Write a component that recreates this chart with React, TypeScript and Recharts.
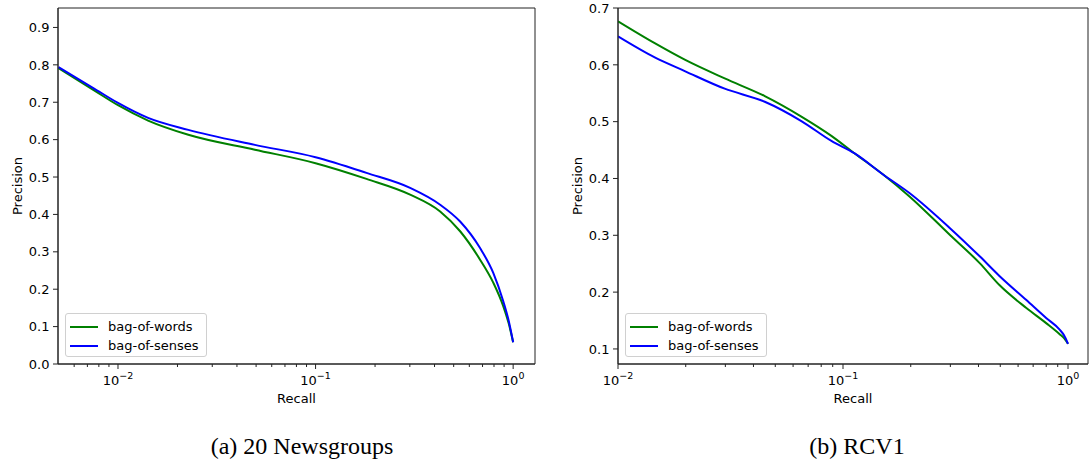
import React from 'react';
import { LineChart, Line, XAxis, YAxis, Legend, ReferenceArea } from 'recharts';

// (a) 20 Newsgroups
const newsRecall = [0.005, 0.0075, 0.01, 0.0142, 0.0227, 0.0493, 0.1, 0.181, 0.301, 0.427, 0.539, 0.68, 0.794, 0.892, 0.95, 1.0];
const newsWords = [0.791, 0.733, 0.692, 0.651, 0.613, 0.573, 0.537, 0.495, 0.453, 0.408, 0.355, 0.279, 0.217, 0.154, 0.108, 0.058];
const newsSenses = [0.794, 0.738, 0.698, 0.658, 0.626, 0.586, 0.553, 0.511, 0.471, 0.426, 0.381, 0.31, 0.243, 0.167, 0.115, 0.058];

// (b) RCV1
const rcvRecall = [0.01, 0.01456, 0.0198, 0.0298, 0.0449, 0.0653, 0.0888, 0.1127, 0.1507, 0.198, 0.298, 0.405, 0.497, 0.653, 0.802, 0.918, 0.96, 1.0];
const rcvWords = [0.6765, 0.638, 0.609, 0.576, 0.545, 0.509, 0.475, 0.444, 0.407, 0.368, 0.301, 0.251, 0.212, 0.172, 0.145, 0.126, 0.119, 0.109];
const rcvSenses = [0.65, 0.613, 0.589, 0.558, 0.535, 0.501, 0.466, 0.444, 0.407, 0.374, 0.313, 0.263, 0.228, 0.186, 0.154, 0.134, 0.124, 0.109];

const seriesNames = ['bag-of-words', 'bag-of-senses'];
const seriesColors = ['#008000', '#0000ff'];

const newsYTicks = [0, 0.1, 0.2, 0.3, 0.4, 0.5, 0.6, 0.7, 0.8, 0.9];
const rcvYTicks = [0.1, 0.2, 0.3, 0.4, 0.5, 0.6, 0.7];
const newsXTicks = [0.006, 0.007, 0.008, 0.009, 0.01, 0.02, 0.03, 0.04, 0.05, 0.06, 0.07, 0.08, 0.09, 0.1, 0.2, 0.3, 0.4, 0.5, 0.6, 0.7, 0.8, 0.9, 1];
const rcvXTicks = [0.01, 0.02, 0.03, 0.04, 0.05, 0.06, 0.07, 0.08, 0.09, 0.1, 0.2, 0.3, 0.4, 0.5, 0.6, 0.7, 0.8, 0.9, 1];
const majorTicks = [0.01, 0.1, 1];
const majorExponents = ['\u22122', '\u22121', '0'];

const FONT = 'DejaVu Sans';
const SPINE = '#222';

const toRows = (recall: number[], words: number[], senses: number[]) =>
  recall.map((r, i) => ({ recall: r, words: words[i], senses: senses[i] }));

const newsData = toRows(newsRecall, newsWords, newsSenses);
const rcvData = toRows(rcvRecall, rcvWords, rcvSenses);

function LogTick({ x, y, payload }: any) {
  const idx = majorTicks.findIndex((m) => Math.abs(m - payload.value) < 1e-9);
  const major = idx >= 0;
  return (
    <g>
      <line x1={x} x2={x} y1={y} y2={y + (major ? 5 : 3)} stroke={SPINE} strokeWidth={1} />
      {major && (
        <text x={x} y={y + 21} textAnchor="middle" fontSize={13} fill="#000" fontFamily={FONT}>
          10<tspan dy={-6} fontSize={9.5}>{majorExponents[idx]}</tspan>
        </text>
      )}
    </g>
  );
}

function YTick({ x, y, payload }: any) {
  return (
    <g>
      <line x1={x - 5} x2={x} y1={y} y2={y} stroke={SPINE} strokeWidth={1} />
      <text x={x - 8.5} y={y} dy="0.36em" textAnchor="end" fontSize={13} fill="#000" fontFamily={FONT}>
        {payload.value.toFixed(1)}
      </text>
    </g>
  );
}

const recallLabel = (props: any) => {
  const vb = props.viewBox;
  return (
    <text x={vb.x + vb.width / 2} y={vb.y + 39} textAnchor="middle" fontSize={13} fill="#000" fontFamily={FONT}>
      Recall
    </text>
  );
};

const precisionLabel = (props: any) => {
  const vb = props.viewBox;
  const cx = vb.x + 17;
  const cy = vb.y + vb.height / 2;
  return (
    <text x={cx} y={cy} dy="0.36em" transform={`rotate(-90 ${cx} ${cy})`} textAnchor="middle" fontSize={13} fill="#000" fontFamily={FONT}>
      Precision
    </text>
  );
};

function LegendBox() {
  return (
    <div
      style={{
        boxSizing: 'border-box',
        width: 142,
        height: 44,
        border: '1px solid #d0d0d0',
        borderRadius: 3,
        background: 'rgba(255,255,255,0.8)',
        paddingTop: 3,
        fontFamily: FONT,
        fontSize: 13,
        color: '#000',
      }}
    >
      {seriesNames.map((name, i) => (
        <div key={name} style={{ display: 'flex', alignItems: 'center', height: 19 }}>
          <span style={{ display: 'inline-block', width: 28, height: 2, background: seriesColors[i], marginLeft: 4, marginRight: 10 }} />
          <span>{name}</span>
        </div>
      ))}
    </div>
  );
}

function PRChart({ data, width, rightMargin, xDomain, xTicks, yDomain, yTicks }: any) {
  return (
    <LineChart width={width} height={408} data={data} margin={{ top: 8, right: rightMargin, left: 0, bottom: 0 }}>
      <XAxis
        dataKey="recall"
        type="number"
        scale="log"
        domain={xDomain}
        allowDataOverflow
        ticks={xTicks}
        interval={0}
        tick={<LogTick />}
        tickLine={false}
        tickSize={0}
        tickMargin={0}
        height={44}
        axisLine={{ stroke: SPINE }}
        label={recallLabel}
      />
      <YAxis
        type="number"
        domain={yDomain}
        allowDataOverflow
        ticks={yTicks}
        interval={0}
        tick={<YTick />}
        tickLine={false}
        tickSize={0}
        tickMargin={0}
        width={58}
        axisLine={{ stroke: SPINE }}
        label={precisionLabel}
      />
      <ReferenceArea
        x1={xDomain[0]}
        x2={xDomain[1]}
        y1={yDomain[0]}
        y2={yDomain[1]}
        fill="none"
        fillOpacity={0}
        stroke={SPINE}
        strokeWidth={1}
      />
      <Legend
        layout="vertical"
        align="center"
        verticalAlign="middle"
        content={<LegendBox />}
        wrapperStyle={{ left: 65, top: 313, width: 142, height: 44 }}
      />
      <Line type="monotone" dataKey="words" name={seriesNames[0]} stroke={seriesColors[0]} strokeWidth={2} dot={false} activeDot={false} isAnimationActive={false} />
      <Line type="monotone" dataKey="senses" name={seriesNames[1]} stroke={seriesColors[1]} strokeWidth={2} dot={false} activeDot={false} isAnimationActive={false} />
    </LineChart>
  );
}

const captionStyle: React.CSSProperties = {
  position: 'absolute',
  top: 434,
  fontFamily: '"Liberation Serif", "DejaVu Serif", serif',
  fontSize: 24,
  lineHeight: '24px',
  color: '#000',
  transform: 'translateX(-50%)',
  whiteSpace: 'nowrap',
};

export default function App() {
  return (
    <div style={{ position: 'absolute', left: 0, top: 0, width: 1089, height: 461, background: '#fff', overflow: 'hidden' }}>
      <div style={{ position: 'absolute', left: 0, top: 0 }}>
        <PRChart data={newsData} width={545} rightMargin={10} xDomain={[0.00497, 1.29]} xTicks={newsXTicks} yDomain={[0, 0.952]} yTicks={newsYTicks} />
      </div>
      <div style={{ position: 'absolute', left: 560, top: 0 }}>
        <PRChart data={rcvData} width={529} rightMargin={1} xDomain={[0.01, 1.227]} xTicks={rcvXTicks} yDomain={[0.0735, 0.7]} yTicks={rcvYTicks} />
      </div>
      <div style={{ ...captionStyle, left: 302 }}>(a) 20 Newsgroups</div>
      <div style={{ ...captionStyle, left: 857 }}>(b) RCV1</div>
    </div>
  );
}
